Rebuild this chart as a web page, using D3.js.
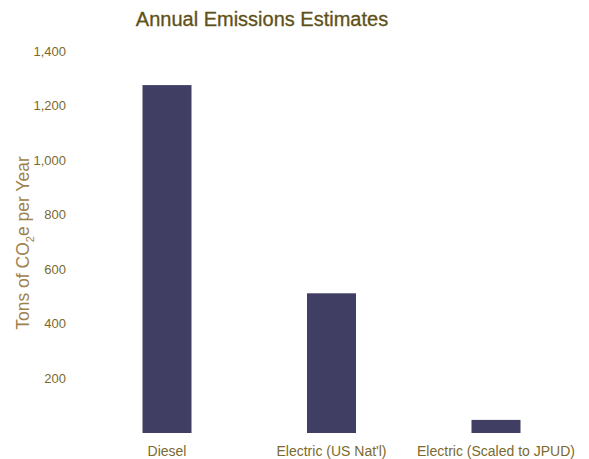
<!DOCTYPE html>
<html lang="en">
<head>
    <meta charset="UTF-8">
    <title>Annual Emissions Estimates</title>
    <style>
        body { margin: 0; background: #fff; }
        text { font-family: "Liberation Sans", Arial, sans-serif; }
        .tick-label { fill: #7b6a2e; font-size: 13px; }
        .cat-label { fill: #7b6a2e; font-size: 14px; }
    </style>
</head>
<body>
    <div id="chart"></div>
    <script src="https://d3js.org/d3.v7.min.js"></script>
    <script>
        const categories = ["Diesel", "Electric (US Nat'l)", "Electric (Scaled to JPUD)"];
        const values = [1275, 512, 48];
        const yTicks = [200, 400, 600, 800, 1000, 1200, 1400];

        const width = 589;
        const height = 459;
        const margin = { top: 51, bottom: 26 };

        const svg = d3.select("#chart")
            .append("svg")
            .attr("width", width)
            .attr("height", height);

        const x = d3.scaleBand()
            .domain(categories)
            .range([84.75, 578.25]);

        const y = d3.scaleLinear()
            .domain([0, 1400])
            .range([433, margin.top]);

        const barWidth = 49;

        // title
        svg.append("text")
            .attr("x", 262)
            .attr("y", 26)
            .attr("text-anchor", "middle")
            .attr("fill", "#5e5118")
            .style("font-size", "20px")
            .style("stroke", "#5e5118")
            .style("stroke-width", "0.3px")
            .text("Annual Emissions Estimates");

        // y tick labels
        svg.selectAll(".tick-label")
            .data(yTicks)
            .enter().append("text")
            .attr("class", "tick-label")
            .attr("x", 66)
            .attr("y", d => y(d))
            .attr("dy", "0.35em")
            .attr("text-anchor", "end")
            .text(d => d3.format(",")(d));

        // y axis title
        const yTitle = svg.append("text")
            .attr("transform", "translate(29,243) rotate(-90)")
            .attr("text-anchor", "middle")
            .attr("fill", "#a0824e")
            .style("font-size", "17.5px");
        yTitle.append("tspan").text("Tons of CO");
        yTitle.append("tspan").attr("dy", "5").style("font-size", "11px").text("2");
        yTitle.append("tspan").attr("dy", "-5").text("e per Year");

        // bars
        svg.selectAll(".bar")
            .data(categories)
            .enter().append("rect")
            .attr("class", "bar")
            .attr("x", d => x(d) + x.bandwidth() / 2 - barWidth / 2)
            .attr("y", (d, i) => y(values[i]))
            .attr("width", barWidth)
            .attr("height", (d, i) => y(0) - y(values[i]))
            .attr("fill", "#403e62");

        // category labels
        svg.selectAll(".cat-label")
            .data(categories)
            .enter().append("text")
            .attr("class", "cat-label")
            .attr("x", d => x(d) + x.bandwidth() / 2)
            .attr("y", 456)
            .attr("text-anchor", "middle")
            .text(d => d);
    </script>
</body>
</html>
